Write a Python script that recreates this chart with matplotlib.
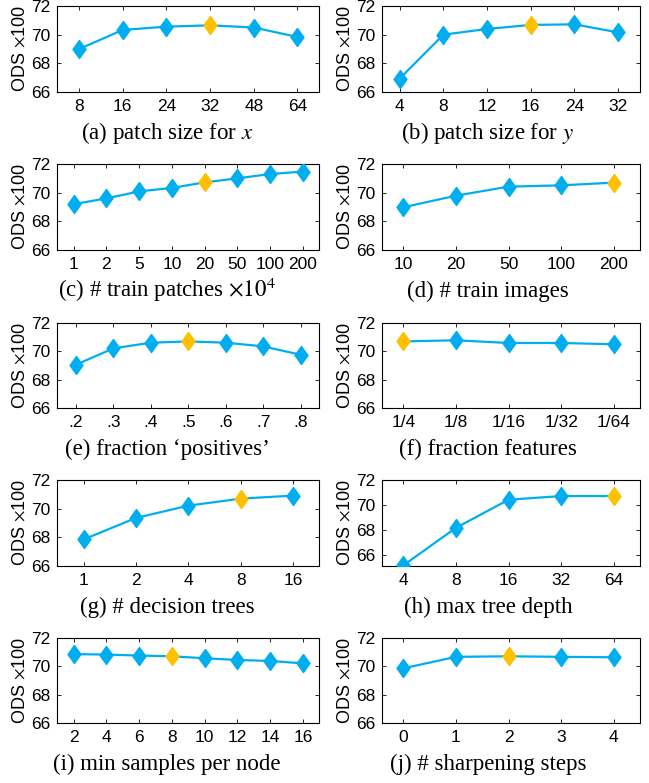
import matplotlib
matplotlib.use('Agg')

import matplotlib.pyplot as plt

# Data (ODS x 100 for each parameter setting)
patch_x_labels = ['8', '16', '24', '32', '48', '64']
patch_x_ods = [69.0, 70.33, 70.56, 70.65, 70.5, 69.84]

patch_y_labels = ['4', '8', '12', '16', '24', '32']
patch_y_ods = [66.94, 70.0, 70.4, 70.68, 70.72, 70.16]

train_patches_labels = ['1', '2', '5', '10', '20', '50', '100', '200']
train_patches_ods = [69.2, 69.6, 70.09, 70.33, 70.72, 71.0, 71.3, 71.47]

train_images_labels = ['10', '20', '50', '100', '200']
train_images_ods = [68.98, 69.79, 70.42, 70.51, 70.7]

positives_labels = ['.2', '.3', '.4', '.5', '.6', '.7', '.8']
positives_ods = [69.06, 70.21, 70.61, 70.7, 70.61, 70.35, 69.76]

features_labels = ['1/4', '1/8', '1/16', '1/32', '1/64']
features_ods = [70.7, 70.78, 70.59, 70.59, 70.5]

trees_labels = ['1', '2', '4', '8', '16']
trees_ods = [67.85, 69.35, 70.21, 70.7, 70.91]

depth_labels = ['4', '8', '16', '32', '64']
depth_ods = [65.2, 68.19, 70.43, 70.72, 70.72]

min_samples_labels = ['2', '4', '6', '8', '10', '12', '14', '16']
min_samples_ods = [70.86, 70.83, 70.76, 70.71, 70.57, 70.45, 70.38, 70.21]

sharpen_labels = ['0', '1', '2', '3', '4']
sharpen_ods = [69.86, 70.67, 70.71, 70.67, 70.64]

# index of the default setting (drawn in orange)
default_index = [3, 3, 4, 4, 3, 0, 3, 4, 3, 2]

captions = [
    '(a) patch size for $x$',
    '(b) patch size for $y$',
    r'(c) # train patches $\times 10^4$',
    '(d) # train images',
    '(e) fraction \u2018positives\u2019',
    '(f) fraction features',
    '(g) # decision trees',
    '(h) max tree depth',
    '(i) min samples per node',
    '(j) # sharpening steps',
]

BLUE = '#00AEEF'
ORANGE = '#FFC000'
DIAMOND = [(0, 1), (0.72, 0), (0, -1), (-0.72, 0), (0, 1)]

W, H = 649, 783


def draw_panel(fig, box, labels, values, highlight, caption, col, ylim):
    left_px, top_px, right_px, bottom_px = box
    ax = fig.add_axes([left_px / W, 1 - bottom_px / H,
                       (right_px - left_px) / W, (bottom_px - top_px) / H])
    xs = list(range(len(labels)))
    ax.plot(xs, values, color=BLUE, lw=1.6, zorder=2)
    for i, (x, v) in enumerate(zip(xs, values)):
        c = ORANGE if i == highlight else BLUE
        ax.plot(x, v, marker=DIAMOND, ms=13, color=c, mec=c, lw=0, zorder=3)

    ax.set_xticks(xs)
    ax.set_xticklabels(labels)
    ax.set_yticks([66, 68, 70, 72])
    ax.set_ylim(*ylim)
    if col == 0:
        ax.set_xlim(-0.5, len(labels) - 0.5)
    else:
        ax.set_xlim(-0.4, len(labels) - 0.5)

    ax.tick_params(direction='in', top=True, right=True, length=3, width=0.6,
                   labelsize=12.5, pad=5)
    for lab in ax.get_xticklabels() + ax.get_yticklabels():
        lab.set_family('Liberation Sans')
    for s in ax.spines.values():
        s.set_linewidth(0.8)

    ax.set_ylabel(r'ODS $\times$100', fontsize=13, family='Liberation Sans')
    ax.yaxis.set_label_coords((29 + col * 325 - left_px) / (right_px - left_px), 0.5)

    # caption below the panel, centred on the subfigure
    cx = 167 if col == 0 else 488
    fig.text(cx / W, 1 - (bottom_px + 47) / H, caption, ha='center', va='baseline',
             fontsize=16.5, family='Liberation Serif')
    return ax


def make_figure():
    plt.rcParams['mathtext.fontset'] = 'stix'
    fig = plt.figure(figsize=(6.49, 7.83), dpi=100)

    rows = [(6, 92), (164, 250), (323, 408), (480, 566), (638, 723)]
    cols = [(57.3, 319.3), (382.3, 640)]

    data = [
        (patch_x_labels, patch_x_ods), (patch_y_labels, patch_y_ods),
        (train_patches_labels, train_patches_ods), (train_images_labels, train_images_ods),
        (positives_labels, positives_ods), (features_labels, features_ods),
        (trees_labels, trees_ods), (depth_labels, depth_ods),
        (min_samples_labels, min_samples_ods), (sharpen_labels, sharpen_ods),
    ]

    for k, (labels, values) in enumerate(data):
        r, c = divmod(k, 2)
        box = (cols[c][0], rows[r][0], cols[c][1], rows[r][1])
        ylim = (65.15, 72) if k == 7 else (66, 72)
        draw_panel(fig, box, labels, values, default_index[k], captions[k], c, ylim)

    fig.savefig('out.png', dpi=100)
    plt.close(fig)


make_figure()
